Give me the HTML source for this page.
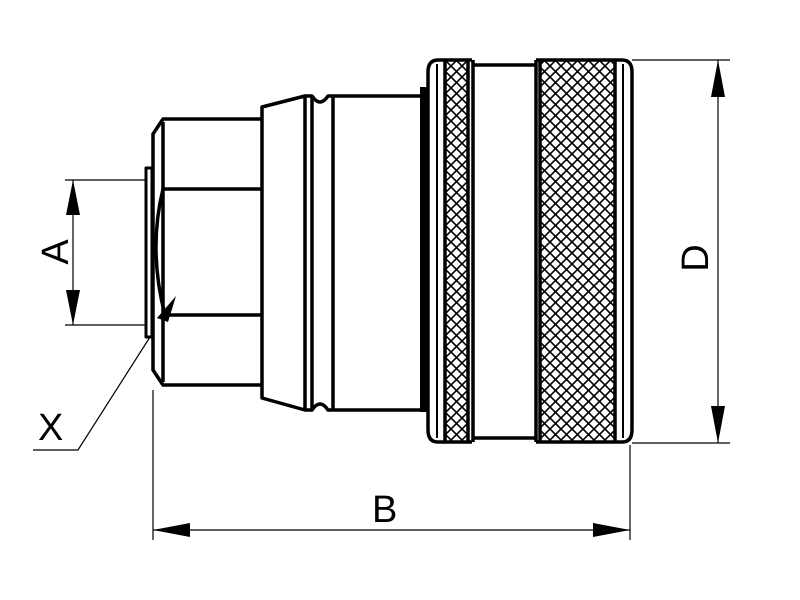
<!DOCTYPE html>
<html><head><style>html,body{margin:0;padding:0;background:#fff}svg{display:block}</style></head><body>
<svg width="800" height="600" viewBox="0 0 800 600" xmlns="http://www.w3.org/2000/svg">
<defs>
<pattern id="k" width="11" height="11" patternUnits="userSpaceOnUse">
<path d="M0 0L11 11M11 0L0 11" stroke="#000" stroke-width="1.6"/>
</pattern>
</defs>
<g fill="none" stroke="#000" stroke-width="3.5" stroke-linejoin="round">
<path d="M262 119H163L153 134V370L163 385H262"/>
<line x1="163" y1="122" x2="163" y2="382"/>
<line x1="163" y1="189" x2="262" y2="189"/>
<line x1="163" y1="315" x2="262" y2="315"/>
<path d="M163 189Q148 250 165 315"/>
<rect x="146" y="168" width="6" height="169" stroke-width="3"/>
<path d="M262 107L305 96V410L262 398Z"/>
<line x1="312" y1="96" x2="312" y2="410"/>
<path d="M305 96H312Q320 108 328 96H333M305 410H312Q320 398 328 410H333"/>
<line x1="333" y1="96" x2="333" y2="410"/>
<path d="M333 96H422M333 410H422"/>
<rect x="420" y="87" width="8" height="325" fill="#000" stroke="none"/>
<!-- left knurl ring -->
<rect x="445" y="60" width="23" height="382" fill="url(#k)" stroke="none"/>
<path d="M472 60H438Q428 60 428 72V430Q428 442 438 442H472"/>
<line x1="437" y1="64" x2="437" y2="438" stroke-width="2"/>
<line x1="445" y1="60" x2="445" y2="442"/>
<line x1="468" y1="60" x2="468" y2="442"/>
<line x1="473" y1="60" x2="473" y2="442"/>
<!-- middle band -->
<path d="M473 65H536M473 438H536"/>
<!-- right knurl ring -->
<rect x="540" y="60" width="75" height="382" fill="url(#k)" stroke="none"/>
<path d="M536 60H622Q632 60 632 72V430Q632 442 622 442H536"/>
<line x1="536" y1="60" x2="536" y2="442"/>
<line x1="540" y1="60" x2="540" y2="442"/>
<line x1="615" y1="60" x2="615" y2="442"/>
<line x1="623" y1="64" x2="623" y2="438" stroke-width="2"/>
</g>
<g stroke="#000" stroke-width="1.2" fill="none">
<path d="M65 180H146M65 325H146M73 180V325"/>
<path d="M632 60H730M632 443H730M718 60V443"/>
<path d="M153 390V540M630 445V540M153 530H630"/>
<path d="M150 337L78 450H33"/>
</g>
<g fill="#000">
<path d="M73 180L66 215H80Z"/><path d="M73 325L66 290H80Z"/>
<path d="M718 60L711 97H725Z"/><path d="M718 443L711 406H725Z"/>
<path d="M153 530L190 523V537Z"/><path d="M630 530L593 523V537Z"/>
<path d="M157 318L176 296L168 322Z"/>
</g>
<g font-family="Liberation Sans, sans-serif" font-size="38" fill="#000">
<text x="38" y="440">X</text>
<text x="372" y="522">B</text>
<text transform="translate(68 252) rotate(-90)" text-anchor="middle">A</text>
<text transform="translate(708 258) rotate(-90)" text-anchor="middle">D</text>
</g>
</svg>
</body></html>
